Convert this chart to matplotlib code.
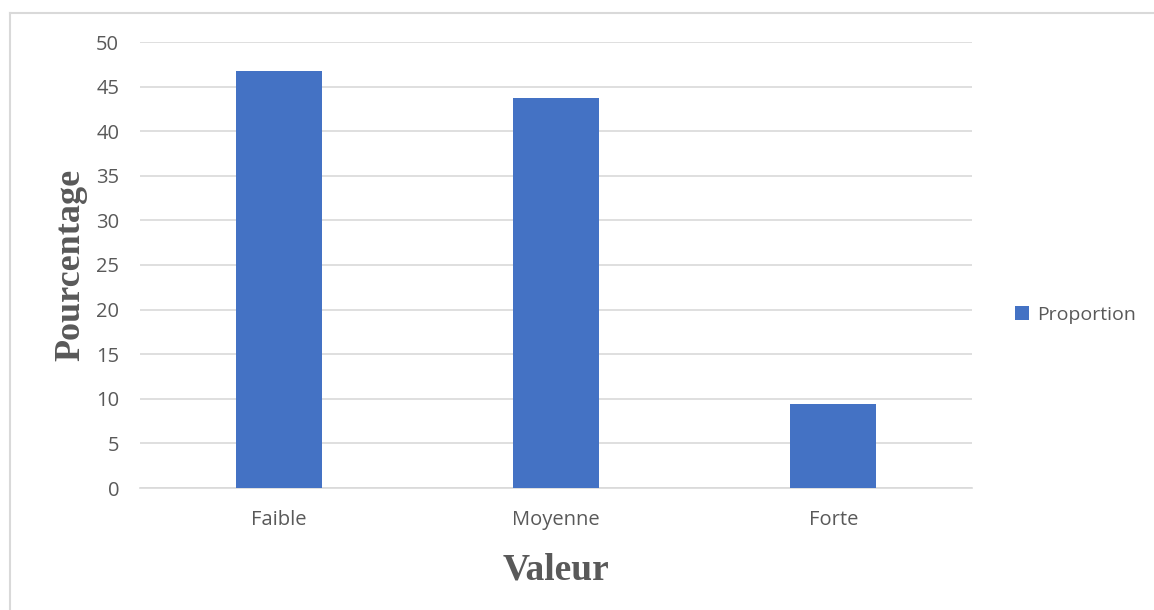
import matplotlib
matplotlib.use("Agg")
import matplotlib.pyplot as plt
from matplotlib.lines import Line2D

# data
categories = ["Faible", "Moyenne", "Forte"]
proportion = [46.8, 43.7, 9.4]
yticks = [0, 5, 10, 15, 20, 25, 30, 35, 40, 45, 50]

BAR = "#4472C4"
GRID = "#D9D9D9"
TXT = "#595959"
W, H = 1154, 610

fig = plt.figure(figsize=(W / 100, H / 100), dpi=100)
ax = fig.add_axes([140 / W, 1 - 488 / H, 832 / W, 446 / H])

x = range(len(categories))
ax.bar(x, proportion, width=0.31, color=BAR, label="Proportion", zorder=3)

ax.set_xlim(-0.5, len(categories) - 0.5)
ax.set_ylim(0, 50)
ax.set_yticks(yticks)
ax.set_xticks(list(x))
ax.set_xticklabels(categories)
ax.grid(axis="y", color=GRID, linewidth=1.2, zorder=0)
for s in ["top", "right", "left"]:
    ax.spines[s].set_visible(False)
ax.spines["bottom"].set_color(GRID)
ax.spines["bottom"].set_linewidth(1.2)
ax.tick_params(axis="both", length=0, labelsize=14.5, labelcolor=TXT)
ax.tick_params(axis="x", pad=16)
ax.tick_params(axis="y", pad=15)
for lab in ax.get_xticklabels() + ax.get_yticklabels():
    lab.set_family("Open Sans")

ax.set_ylabel("Pourcentage", family="Liberation Serif", fontweight="bold",
              fontsize=26, color=TXT, labelpad=6)
ax.set_xlabel("Valeur", family="Liberation Serif", fontweight="bold",
              fontsize=27, color=TXT, labelpad=16)

leg = fig.legend(loc="center left", bbox_to_anchor=(997 / W, 1 - 315 / H),
                 frameon=False, prop={"family": "Open Sans", "size": 14},
                 handlelength=0.75, handleheight=0.75, handletextpad=0.4)
for t in leg.get_texts():
    t.set_color(TXT)

# outer chart border: top and left edges only
fig.add_artist(Line2D([10 / W, 1], [1 - 13 / H, 1 - 13 / H], transform=fig.transFigure,
                      color=GRID, linewidth=1.5))
fig.add_artist(Line2D([10 / W, 10 / W], [0, 1 - 13 / H], transform=fig.transFigure,
                      color=GRID, linewidth=1.5))

fig.savefig("out.png", dpi=100)
